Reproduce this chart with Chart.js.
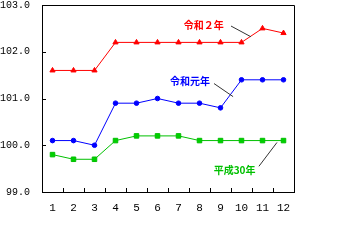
<!DOCTYPE html>
<html>
<head>
<meta charset="utf-8">
<script src="https://cdn.jsdelivr.net/npm/chart.js@4/dist/chart.umd.min.js"></script>
<style>
  html, body { margin: 0; padding: 0; background: #fff; }
  #wrap { width: 358px; height: 246px; }
</style>
</head>
<body>
<div id="wrap"><canvas id="chart" width="358" height="246"></canvas></div>
<script>
// 月
const months = ['1', '2', '3', '4', '5', '6', '7', '8', '9', '10', '11', '12'];
// 系列の値
const reiwa2 = [101.6, 101.6, 101.6, 102.2, 102.2, 102.2, 102.2, 102.2, 102.2, 102.2, 102.5, 102.4];
const reiwaGannen = [100.1, 100.1, 100.0, 100.9, 100.9, 101.0, 100.9, 100.9, 100.8, 101.4, 101.4, 101.4];
const heisei30 = [99.8, 99.7, 99.7, 100.1, 100.2, 100.2, 100.2, 100.1, 100.1, 100.1, 100.1, 100.1];
// 縦軸
const yMin = 99, yMax = 103, yStep = 1;

// 系列名ラベルと引き出し線（位置は軸の値で指定）
const seriesLabels = [
    { text: '令和２年', color: '#ff0000', at: [7.2, 102.57], line: [[8.5, 102.55], [9.45, 102.32]] },
    { text: '令和元年', color: '#0000ff', at: [6.55, 101.36], line: [[7.69, 101.32], [8.6, 101.04]] },
    { text: '平成30年', color: '#00c000', at: [8.67, 99.47], line: [[9.83, 99.55], [10.69, 100.06]] }
];

const frame = {
    id: 'frame',
    afterDraw(chart) {
        const { ctx, chartArea: a, scales: { x, y } } = chart;
        ctx.save();
        ctx.strokeStyle = '#000';
        ctx.lineWidth = 1;
        // 枠
        ctx.beginPath();
        ctx.moveTo(Math.round(a.left) + 0.5, Math.round(a.top) + 0.5);
        ctx.lineTo(Math.round(a.right) + 0.5, Math.round(a.top) + 0.5);
        ctx.lineTo(Math.round(a.right) + 0.5, Math.round(a.bottom) + 0.5);
        ctx.stroke();
        // 内向きの目盛り
        ctx.beginPath();
        for (let v = yMin + yStep; v < yMax; v += yStep) {
            const py = Math.round(y.getPixelForValue(v)) + 0.5;
            ctx.moveTo(a.left, py);
            ctx.lineTo(a.left + 4, py);
        }
        for (let i = 0; i < months.length - 1; i++) {
            const px = Math.round(x.getPixelForValue(i + 0.5)) + 0.5;
            ctx.moveTo(px, a.bottom);
            ctx.lineTo(px, a.bottom - 4);
        }
        ctx.stroke();
        // 系列名
        ctx.font = 'bold 10px "Noto Sans CJK JP"';
        ctx.textAlign = 'center';
        ctx.textBaseline = 'middle';
        seriesLabels.forEach(l => {
            ctx.fillStyle = l.color;
            ctx.fillText(l.text, x.getPixelForValue(l.at[0]), y.getPixelForValue(l.at[1]));
            ctx.strokeStyle = '#333';
            ctx.beginPath();
            ctx.moveTo(x.getPixelForValue(l.line[0][0]), y.getPixelForValue(l.line[0][1]));
            ctx.lineTo(x.getPixelForValue(l.line[1][0]), y.getPixelForValue(l.line[1][1]));
            ctx.stroke();
        });
        ctx.restore();
    }
};

new Chart(document.getElementById('chart'), {
    type: 'line',
    data: {
        labels: months,
        datasets: [
            {
                data: reiwa2, borderColor: '#ff0000', backgroundColor: '#ff0000',
                borderWidth: 1, pointStyle: 'triangle', pointRadius: 3, pointBorderWidth: 1
            },
            {
                data: reiwaGannen, borderColor: '#0000ff', backgroundColor: '#0000ff',
                borderWidth: 1, pointStyle: 'circle', pointRadius: 2.3, pointBorderWidth: 1
            },
            {
                data: heisei30, borderColor: '#00c000', backgroundColor: '#00d000',
                borderWidth: 1, pointStyle: 'rect', pointRadius: 3.2, pointBorderWidth: 1
            }
        ]
    },
    options: {
        responsive: false,
        animation: false,
        layout: { padding: { left: 0, right: 64, top: 5, bottom: 24 } },
        plugins: { legend: { display: false }, tooltip: { enabled: false } },
        scales: {
            x: {
                offset: true,
                grid: { display: false, drawTicks: false },
                border: { display: true, color: '#000', width: 1 },
                ticks: {
                    color: '#000', font: { family: '"Liberation Mono", monospace', size: 11 },
                    padding: 9, maxRotation: 0, autoSkip: false
                },
                afterFit(s) { s.height = 30; s.paddingLeft = 0; s.paddingRight = 0; }
            },
            y: {
                min: yMin, max: yMax,
                grid: { display: false, drawTicks: false },
                border: { display: true, color: '#000', width: 1 },
                ticks: {
                    color: '#000', font: { family: '"Liberation Mono", monospace', size: 10 },
                    padding: 12, stepSize: yStep,
                    callback: v => v.toFixed(1)
                },
                afterFit(s) { s.width = 42; s.paddingTop = 0; s.paddingBottom = 0; }
            }
        }
    },
    plugins: [frame]
});
</script>
</body>
</html>
